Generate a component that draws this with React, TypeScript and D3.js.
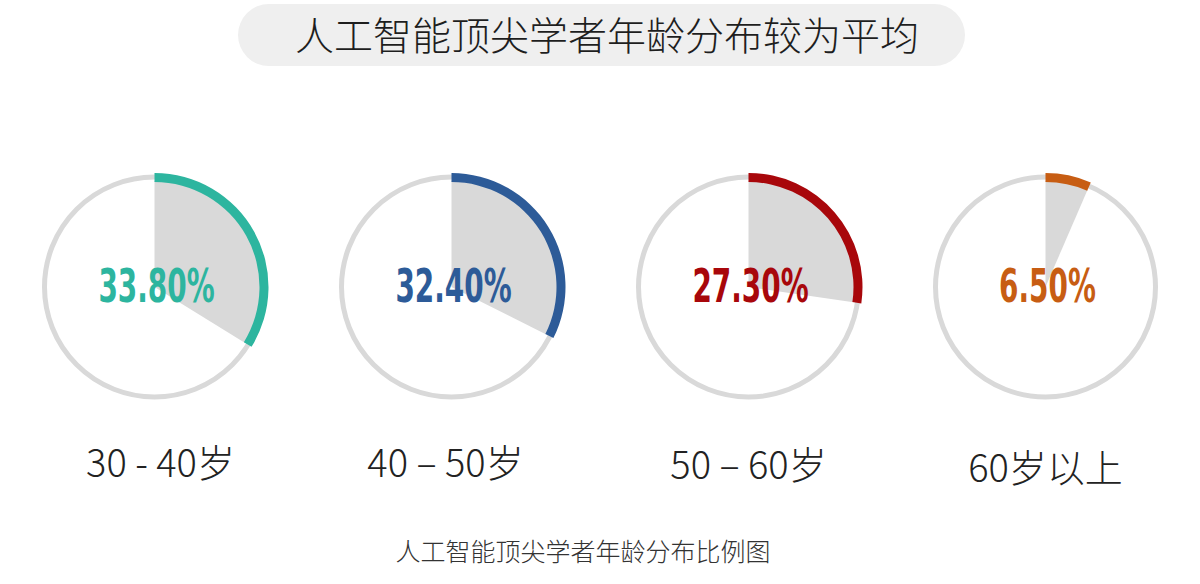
import React from 'react'
import * as d3 from 'd3'

// data
const groups = ['30 - 40岁', '40 – 50岁', '50 – 60岁', '60岁以上']
const shares = [33.8, 32.4, 27.3, 6.5]
const colors = ['#2db59f', '#2d5b98', '#a8070b', '#c75d13']
const title = '人工智能顶尖学者年龄分布较为平均'
const caption = '人工智能顶尖学者年龄分布比例图'

const W = 1200
const H = 584
const CY = 287
const R = 110

const App: React.FC = () => {
  const x = d3.scaleBand<string>().domain(groups).range([6, 1194])
  const angle = d3.scaleLinear().domain([0, 100]).range([0, 2 * Math.PI])

  const wedge = d3.arc<number>().innerRadius(0).outerRadius(R - 4).startAngle(0).endAngle(d => angle(d))
  const band = d3.arc<number>().innerRadius(R - 5).outerRadius(R + 4).startAngle(0).endAngle(d => angle(d))

  const sans = '"Noto Sans CJK SC", "Noto Sans", sans-serif'
  const narrow = '"DejaVu Sans Condensed", "DejaVu Sans", sans-serif'

  return (
    <svg width={W} height={H} style={{ position: 'absolute', left: 0, top: 0, background: '#fff' }}>
      <rect x={238} y={4} width={727} height={62} rx={31} fill="#efefef" />
      <text x={607} y={50} textAnchor="middle" fontFamily={sans} fontWeight={200} fontSize={39} fill="#1e1e1e">
        {title}
      </text>

      {groups.map((g, i) => {
        const cx = (x(g) || 0) + x.bandwidth() / 2
        return (
          <g key={g} transform={`translate(${cx},${CY})`}>
            <circle r={R} fill="none" stroke="#d9d9d9" strokeWidth={5} />
            <path d={wedge(shares[i]) || ''} fill="#d9d9d9" />
            <path d={band(shares[i]) || ''} fill={colors[i]} />
            <text
              transform="translate(2,15) scale(0.66,1)"
              textAnchor="middle"
              fontFamily={narrow}
              fontWeight="bold"
              fontSize={47}
              fill={colors[i]}
            >
              {shares[i].toFixed(2) + '%'}
            </text>
            <text
              x={i === 0 ? 6 : i === 1 ? -6 : 0}
              y={i === 3 ? 195 : i === 2 ? 192 : 190}
              textAnchor="middle"
              fontFamily={sans}
              fontWeight={300}
              fontSize={38}
              fill="#222"
            >
              {g}
            </text>
          </g>
        )
      })}

      <text x={583} y={561} textAnchor="middle" fontFamily={sans} fontWeight={300} fontSize={25} fill="#333">
        {caption}
      </text>
    </svg>
  )
}

export default App
